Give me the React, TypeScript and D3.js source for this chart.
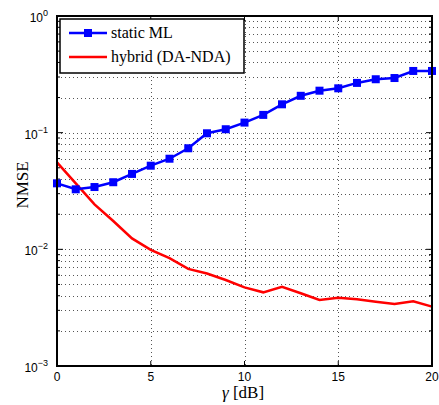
import React, { useEffect, useRef } from "react";
import * as d3 from "d3";

// gamma in dB
const gammaDb = [0, 1, 2, 3, 4, 5, 6, 7, 8, 9, 10, 11, 12, 13, 14, 15, 16, 17, 18, 19, 20];
const staticML = [0.0368, 0.0327, 0.0342, 0.0376, 0.0443, 0.0521, 0.0598, 0.0735, 0.0988, 0.107, 0.122,
  0.142, 0.175, 0.207, 0.229, 0.24, 0.267, 0.287, 0.294, 0.338, 0.338];
const hybrid = [0.0557, 0.0368, 0.0243, 0.0175, 0.0124, 0.0099, 0.0084, 0.0068, 0.0062, 0.00546, 0.00472,
  0.00428, 0.00478, 0.0042, 0.00368, 0.00385, 0.00373, 0.00356, 0.0034, 0.00358, 0.00323];
const xTicks = [0, 5, 10, 15, 20];
const yExps = [0, -1, -2, -3];
const legendNames = ["static ML", "hybrid (DA-NDA)"];

const App = () => {
  const svgRef = useRef<SVGSVGElement>(null);

  useEffect(() => {
    const svg = d3.select(svgRef.current);
    svg.selectAll("*").remove();

    const left = 57, right = 432, top = 16, bottom = 366;
    const x = d3.scaleLinear().domain([0, 20]).range([left, right]);
    const y = d3.scaleLog().domain([1e-3, 1]).range([bottom, top]);

    const grid = svg.append("g");
    // minor + major log grid
    const minor: number[] = [];
    [-3, -2, -1].forEach((e) => {
      for (let k = 2; k <= 9; k++) minor.push(k * Math.pow(10, e));
    });
    grid.selectAll(".gy")
      .data([...minor, 0.01, 0.1])
      .join("line")
      .attr("x1", left).attr("x2", right)
      .attr("y1", (d) => Math.round(y(d)) + 0.5).attr("y2", (d) => Math.round(y(d)) + 0.5)
      .attr("stroke", "#555").attr("stroke-width", 1)
      .attr("stroke-dasharray", "1,3");
    grid.selectAll(".gx")
      .data([5, 10, 15])
      .join("line")
      .attr("x1", (d) => Math.round(x(d)) + 0.5).attr("x2", (d) => Math.round(x(d)) + 0.5)
      .attr("y1", top).attr("y2", bottom)
      .attr("stroke", "#555").attr("stroke-width", 1)
      .attr("stroke-dasharray", "1,3");

    // ticks (inside, all four sides)
    const tk = svg.append("g").attr("stroke", "#000").attr("stroke-width", 1);
    xTicks.forEach((t) => {
      tk.append("line").attr("x1", x(t)).attr("x2", x(t)).attr("y1", bottom).attr("y2", bottom - 5);
      tk.append("line").attr("x1", x(t)).attr("x2", x(t)).attr("y1", top).attr("y2", top + 5);
    });
    minor.forEach((t) => {
      tk.append("line").attr("x1", left).attr("x2", left + 3).attr("y1", y(t)).attr("y2", y(t));
      tk.append("line").attr("x1", right).attr("x2", right - 3).attr("y1", y(t)).attr("y2", y(t));
    });
    yExps.forEach((e) => {
      const v = Math.pow(10, e);
      tk.append("line").attr("x1", left).attr("x2", left + 6).attr("y1", y(v)).attr("y2", y(v));
      tk.append("line").attr("x1", right).attr("x2", right - 6).attr("y1", y(v)).attr("y2", y(v));
    });

    // series
    const line = d3.line<number>()
      .x((d, i) => x(gammaDb[i]))
      .y((d) => y(d));

    svg.append("path")
      .datum(hybrid)
      .attr("d", line)
      .attr("fill", "none")
      .attr("stroke", "#ff0000")
      .attr("stroke-width", 2.5);

    svg.append("path")
      .datum(staticML)
      .attr("d", line)
      .attr("fill", "none")
      .attr("stroke", "#0000ff")
      .attr("stroke-width", 2.5);

    svg.selectAll(".mk")
      .data(staticML)
      .join("rect")
      .attr("x", (d, i) => x(gammaDb[i]) - 4)
      .attr("y", (d) => y(d) - 4)
      .attr("width", 8)
      .attr("height", 8)
      .attr("fill", "#0000ff");

    // axes box
    svg.append("rect")
      .attr("x", left).attr("y", top)
      .attr("width", right - left).attr("height", bottom - top)
      .attr("fill", "none").attr("stroke", "#000").attr("stroke-width", 2);

    // tick labels
    const sans = "'Liberation Sans', Arial, sans-serif";
    svg.selectAll(".xl")
      .data(xTicks)
      .join("text")
      .attr("x", (d) => x(d))
      .attr("y", 381)
      .attr("text-anchor", "middle")
      .attr("font-family", sans)
      .attr("font-size", 12)
      .text((d) => d);

    yExps.forEach((e) => {
      const t = svg.append("text")
        .attr("x", 48)
        .attr("y", y(Math.pow(10, e)) + 6)
        .attr("text-anchor", "end")
        .attr("font-family", sans)
        .attr("font-size", 12);
      t.append("tspan").text("10");
      t.append("tspan").attr("dy", -6).attr("font-size", 9).text(e === 0 ? "0" : "\u2212" + Math.abs(e));
    });

    // axis titles
    const serif = "'Liberation Serif', 'Times New Roman', serif";
    const xt = svg.append("text")
      .attr("x", 243).attr("y", 398)
      .attr("text-anchor", "middle")
      .attr("font-family", serif)
      .attr("font-size", 17);
    xt.append("tspan").attr("font-style", "italic").text("\u03b3");
    xt.append("tspan").text(" [dB]");

    svg.append("text")
      .attr("transform", "translate(28,185) rotate(-90)")
      .attr("text-anchor", "middle")
      .attr("font-family", serif)
      .attr("font-size", 17)
      .text("NMSE");

    // legend
    const lg = svg.append("g");
    lg.append("rect")
      .attr("x", 60).attr("y", 19).attr("width", 184).attr("height", 54)
      .attr("fill", "#fff").attr("stroke", "#000").attr("stroke-width", 1.5);
    const colors = ["#0000ff", "#ff0000"];
    legendNames.forEach((name, i) => {
      const ly = 33 + i * 24;
      lg.append("line")
        .attr("x1", 69).attr("x2", 107).attr("y1", ly).attr("y2", ly)
        .attr("stroke", colors[i]).attr("stroke-width", 2.5);
      if (i === 0) {
        lg.append("rect").attr("x", 84).attr("y", ly - 4).attr("width", 8).attr("height", 8).attr("fill", colors[i]);
      }
      lg.append("text")
        .attr("x", 111).attr("y", ly + 5)
        .attr("font-family", serif)
        .attr("font-size", 16)
        .text(name);
    });
  }, []);

  return (
    <svg
      ref={svgRef}
      width={439}
      height={405}
      style={{ position: "absolute", left: 0, top: 0, background: "#fff" }}
    />
  );
};

export default App;
